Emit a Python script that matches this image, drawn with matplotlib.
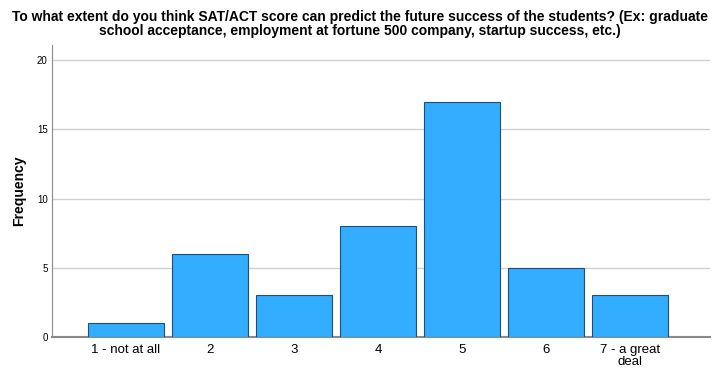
import numpy as np
import matplotlib
matplotlib.use("Agg")
import matplotlib.pyplot as plt

categories = ["1 - not at all", "2", "3", "4", "5", "6", "7 - a great\ndeal"]
counts = [1, 6, 3, 8, 17, 5, 3]
yticks = [0, 5, 10, 15, 20]
title = ("To what extent do you think SAT/ACT score can predict the future success of the students? (Ex: graduate\n"
         "school acceptance, employment at fortune 500 company, startup success, etc.)")

plt.rcParams["font.family"] = ["Liberation Sans", "DejaVu Sans"]

fig = plt.figure(figsize=(7.2, 3.74), dpi=100)
ax = fig.add_axes([0.072, 0.099, 0.914, 0.781])

x = np.arange(len(categories))
ax.bar(x, counts, width=0.905, color="#33adff", edgecolor="#1f4e79", linewidth=0.8, zorder=3)

ax.set_xlim(-0.88, 6.95)
ax.set_ylim(0, 21.1)
ax.set_yticks(yticks)
ax.set_xticks(x)
ax.set_xticklabels(categories, fontsize=9.5, linespacing=1.0)
ax.tick_params(axis="y", labelsize=7, length=0, pad=3)
ax.tick_params(axis="x", length=0, pad=5)
ax.yaxis.grid(True, color="#d0d0d0", linewidth=1, zorder=0)
ax.set_axisbelow(True)

for side in ["top", "right"]:
    ax.spines[side].set_visible(False)
ax.spines["left"].set_color("#8a8a8a")
ax.spines["bottom"].set_color("#8a8a8a")
ax.spines["bottom"].set_linewidth(1.5)

ax.set_ylabel("Frequency", fontsize=10, fontweight="bold", labelpad=8)
fig.text(0.5, 0.972, title, ha="center", va="top", fontsize=10, fontweight="bold", linespacing=0.95)

fig.savefig("out.png", dpi=100)
